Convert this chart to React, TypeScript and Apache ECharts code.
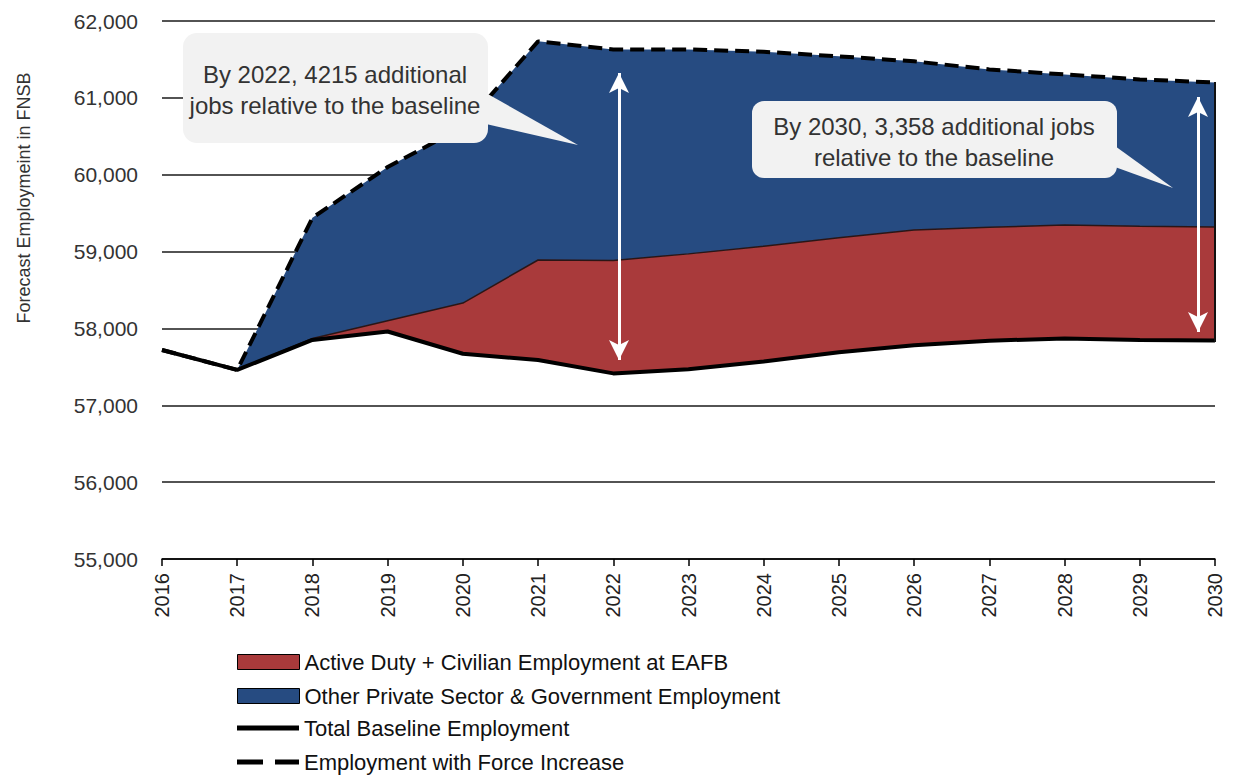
import React, { useEffect, useRef } from "react";
import * as echarts from "echarts";

const years = ["2016","2017","2018","2019","2020","2021","2022","2023","2024","2025","2026","2027","2028","2029","2030"];
// Total baseline employment
const baseline = [57720, 57460, 57850, 57960, 57670, 57590, 57415, 57470, 57570, 57690, 57780, 57840, 57870, 57850, 57842];
// Baseline + Active Duty/Civilian at EAFB (top of red band)
const eafbTop = [57720, 57460, 57870, 58100, 58330, 58890, 58885, 58970, 59070, 59180, 59280, 59315, 59345, 59330, 59320];
// Employment with force increase (top of blue band)
const forceTotal = [57720, 57460, 59440, 60100, 60620, 61735, 61630, 61630, 61600, 61540, 61475, 61370, 61305, 61240, 61200];
const yTicks = [55000, 56000, 57000, 58000, 59000, 60000, 61000, 62000];

const NAME_RED = "Active Duty + Civilian Employment at EAFB";
const NAME_BLUE = "Other Private Sector & Government Employment";
const NAME_BASE = "Total Baseline Employment";
const NAME_FORCE = "Employment with Force Increase";

const RED = "#A93A3B";
const BLUE = "#264B81";
const FONT = '"Liberation Sans", Arial, sans-serif';

export default function App() {
  const ref = useRef<HTMLDivElement>(null);
  useEffect(() => {
    if (!ref.current) return;
    const chart = echarts.init(ref.current, null, { renderer: "svg" });
    const redBand = eafbTop.map((v, i) => v - baseline[i]);
    const blueBand = forceTotal.map((v, i) => v - eafbTop[i]);
    const legendText = { fontSize: 22, color: "#111", fontFamily: FONT };
    chart.setOption({
      animation: false,
      backgroundColor: "#fff",
      textStyle: { fontFamily: FONT },
      grid: { left: 162, right: 21, top: 21, bottom: 218 },
      xAxis: {
        type: "category",
        data: years,
        boundaryGap: false,
        axisLine: { lineStyle: { color: "#000", width: 1.5 } },
        axisTick: { show: true, length: 7, lineStyle: { color: "#000", width: 1.5 } },
        axisLabel: { rotate: 90, fontSize: 20, color: "#222", margin: 14, fontFamily: FONT },
        splitLine: { show: false },
      },
      yAxis: {
        type: "value",
        min: yTicks[0],
        max: yTicks[yTicks.length - 1],
        interval: 1000,
        axisLine: { show: false },
        axisTick: { show: false },
        axisLabel: {
          fontSize: 21,
          color: "#333",
          margin: 24,
          fontFamily: FONT,
          formatter: (v: number) => v.toLocaleString("en-US"),
        },
        splitLine: { lineStyle: { color: "#1a1a1a", width: 1.5 } },
      },
      legend: [
        {
          orient: "vertical",
          left: 237,
          top: 651,
          padding: 0,
          itemWidth: 62,
          itemHeight: 15,
          itemGap: 12,
          selectedMode: false,
          textStyle: legendText,
          data: [
            { name: NAME_RED, icon: "rect", itemStyle: { color: RED, borderColor: "#000", borderWidth: 1 } },
            { name: NAME_BLUE, icon: "rect", itemStyle: { color: BLUE, borderColor: "#000", borderWidth: 1 } },
          ],
        },
        {
          orient: "vertical",
          left: 237,
          top: 717,
          padding: 0,
          itemWidth: 62,
          itemHeight: 5,
          itemGap: 12,
          selectedMode: false,
          textStyle: legendText,
          data: [
            { name: NAME_BASE, icon: "rect", itemStyle: { color: "#000", borderWidth: 0 } },
            { name: NAME_FORCE, icon: "path://M0,0H26V5H0Z M38,0H62V5H38Z", itemStyle: { color: "#000", borderWidth: 0 } },
          ],
        },
      ],
      series: [
        {
          name: NAME_BASE,
          type: "line",
          stack: "emp",
          data: baseline,
          symbol: "none",
          color: "#000",
          lineStyle: { color: "#000", width: 4 },
          z: 5,
        },
        {
          name: NAME_RED,
          type: "line",
          stack: "emp",
          data: redBand,
          symbol: "none",
          color: RED,
          itemStyle: { color: RED },
          lineStyle: { color: "#2b1515", width: 1.5 },
          areaStyle: { color: RED, opacity: 1 },
          z: 2,
        },
        {
          name: NAME_BLUE,
          type: "line",
          stack: "emp",
          data: blueBand,
          symbol: "none",
          color: BLUE,
          itemStyle: { color: BLUE },
          lineStyle: { width: 0 },
          areaStyle: { color: BLUE, opacity: 1 },
          z: 2,
        },
        {
          name: NAME_FORCE,
          type: "line",
          data: forceTotal,
          symbol: "none",
          color: "#000",
          lineStyle: { color: "#000", width: 4, type: [14, 7] },
          z: 6,
          markLine: {
            silent: true,
            symbol: ["arrow", "arrow"],
            symbolSize: [15, 20],
            label: { show: false },
            lineStyle: { color: "#fff", width: 3, type: "solid" },
            data: [
              [{ x: 619, y: 73 }, { x: 619, y: 360 }],
              [{ x: 1198, y: 97 }, { x: 1198, y: 332 }],
            ],
          },
        },
      ],
      graphic: [
        {
          type: "text",
          z: 100,
          x: 24,
          y: 198,
          rotation: Math.PI / 2,
          style: {
            text: "Forecast Employmeint in FNSB",
            font: `18px ${FONT}`,
            fill: "#333",
            textAlign: "center",
            textVerticalAlign: "middle",
          },
        },
        { type: "line", z: 7, shape: { x1: 1215, y1: 82, x2: 1215, y2: 342 }, style: { stroke: "#111", lineWidth: 2 } },
        { type: "rect", z: 100, shape: { x: 183, y: 33, width: 305, height: 110, r: 14 }, style: { fill: "#f2f2f2" } },
        { type: "polygon", z: 100, shape: { points: [[486, 93], [486, 124], [578, 145]] }, style: { fill: "#f2f2f2" } },
        {
          type: "text",
          z: 101,
          x: 335,
          y: 90,
          style: {
            text: "By 2022, 4215 additional\njobs relative to the baseline",
            font: `24px ${FONT}`,
            fill: "#333",
            textAlign: "center",
            textVerticalAlign: "middle",
            lineHeight: 31,
          },
        },
        { type: "rect", z: 100, shape: { x: 752, y: 101, width: 365, height: 77, r: 12 }, style: { fill: "#f2f2f2" } },
        { type: "polygon", z: 100, shape: { points: [[1115, 146], [1115, 167], [1173, 188]] }, style: { fill: "#f2f2f2" } },
        {
          type: "text",
          z: 101,
          x: 934,
          y: 142,
          style: {
            text: "By 2030, 3,358 additional jobs\nrelative to the baseline",
            font: `24px ${FONT}`,
            fill: "#333",
            textAlign: "center",
            textVerticalAlign: "middle",
            lineHeight: 31,
          },
        },
      ],
    });
    return () => chart.dispose();
  }, []);
  return <div ref={ref} style={{ position: "fixed", left: 0, top: 0, width: 1236, height: 777 }} />;
}
